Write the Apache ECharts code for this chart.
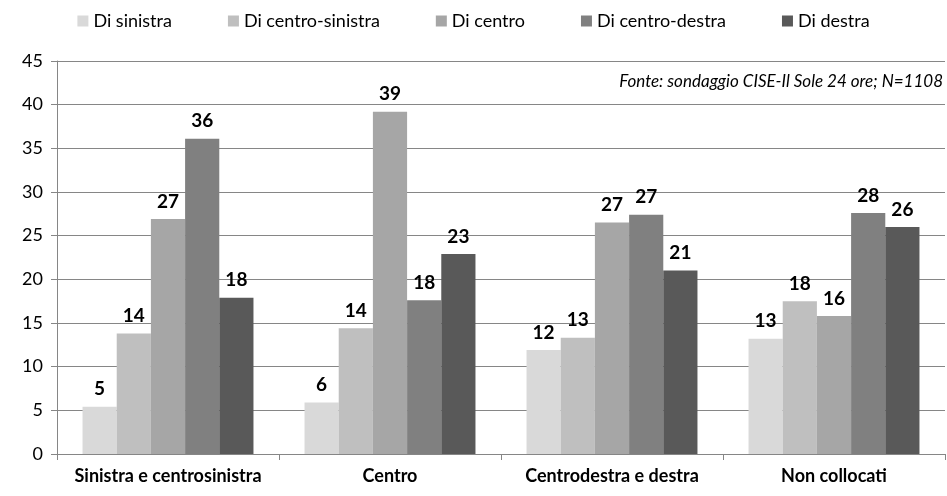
<!DOCTYPE html>
<html>
<head>
<meta charset="utf-8">
<script src="https://cdn.jsdelivr.net/npm/echarts@6/dist/echarts.min.js"></script>
<style>
  html, body { margin: 0; padding: 0; background: #fff; }
  #main { width: 947px; height: 496px; }
</style>
</head>
<body>
<div id="main"></div>
<script>
// dati
var categories = ['Sinistra e centrosinistra', 'Centro', 'Centrodestra e destra', 'Non collocati'];
var seriesNames = ['Di sinistra', 'Di centro-sinistra', 'Di centro', 'Di centro-destra', 'Di destra'];
var diSinistra = [5.4, 5.9, 11.9, 13.2];
var diCentroSinistra = [13.8, 14.4, 13.3, 17.5];
var diCentro = [26.9, 39.2, 26.5, 15.8];
var diCentroDestra = [36.1, 17.6, 27.4, 27.6];
var diDestra = [17.9, 22.9, 21.0, 26.0];
var colors = ['#d9d9d9', '#bfbfbf', '#a6a6a6', '#808080', '#595959'];
var fontFam = 'Lato, "Open Sans", sans-serif';

var values = [diSinistra, diCentroSinistra, diCentro, diCentroDestra, diDestra];

var myChart = echarts.init(document.getElementById('main'));

var option = {
    animation: false,
    color: colors,
    textStyle: { fontFamily: fontFam },
    legend: {
        top: 7,
        left: 'center',
        itemWidth: 11,
        itemHeight: 11,
        itemGap: 56,
        icon: 'rect',
        textStyle: { fontSize: 18, color: '#000', fontFamily: fontFam },
        data: seriesNames
    },
    graphic: [{
        type: 'text',
        right: 4,
        top: 73,
        style: {
            text: 'Fonte: sondaggio CISE-Il Sole 24 ore; N=1108',
            font: 'italic 17px ' + fontFam,
            fill: '#000'
        }
    }],
    grid: { left: 57, right: 2, top: 61, bottom: 42 },
    xAxis: {
        type: 'category',
        data: categories,
        axisLine: { lineStyle: { color: '#868686' } },
        axisTick: { show: true, length: 6, lineStyle: { color: '#868686' } },
        axisLabel: { interval: 0, fontSize: 18, fontWeight: 'bold', color: '#000', margin: 13, fontFamily: fontFam }
    },
    yAxis: {
        type: 'value',
        min: 0,
        max: 45,
        interval: 5,
        axisLine: { show: true, lineStyle: { color: '#868686' } },
        axisTick: { show: true, length: 6, lineStyle: { color: '#868686' } },
        splitLine: { lineStyle: { color: '#868686' } },
        axisLabel: { fontSize: 18, color: '#000', margin: 14, fontFamily: fontFam }
    },
    series: seriesNames.map(function (name, i) {
        return {
            name: name,
            type: 'bar',
            data: values[i],
            barGap: '0%',
            barCategoryGap: '23%',
            label: {
                show: true,
                position: 'top',
                distance: 8,
                fontSize: 19,
                fontWeight: 'bold',
                color: '#000',
                fontFamily: fontFam,
                formatter: function (p) { return Math.round(p.value); }
            }
        };
    })
};

myChart.setOption(option);
</script>
</body>
</html>
